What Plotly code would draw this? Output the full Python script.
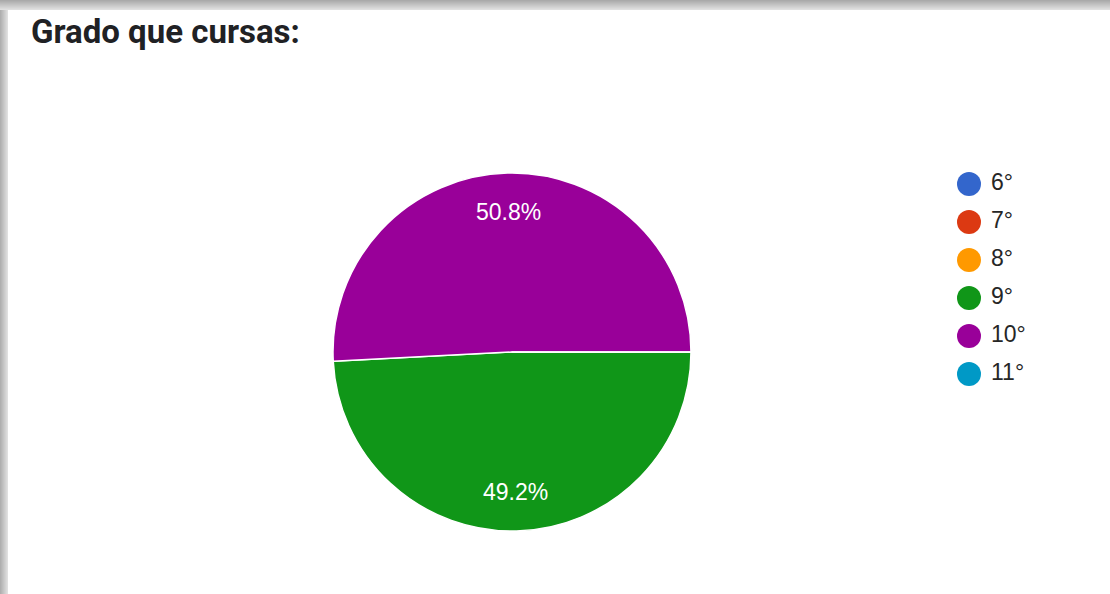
import math
import plotly.graph_objects as go

# Survey answers: "Grado que cursas:"
grados = ["6°", "7°", "8°", "9°", "10°", "11°"]
respuestas = [0, 0, 0, 30, 31, 0]
colores = ["#3366cc", "#dc3912", "#ff9900", "#109618", "#990099", "#0099c6"]

W, H = 1110, 594
ROTATION = 90  # first slice starts at 3 o'clock, going clockwise
CX, CY, R = 512, 352, 179  # pie centre and radius in pixels


def px_x(x):
    return x / W


def px_y(y):
    return 1 - y / H


fig = go.Figure()

fig.add_trace(go.Pie(
    labels=grados,
    values=respuestas,
    marker=dict(colors=colores, line=dict(color="white", width=1.5)),
    sort=False,
    direction="clockwise",
    rotation=ROTATION,
    textinfo="none",
    hoverinfo="label+value+percent",
    showlegend=False,
    domain=dict(x=[px_x(CX - R), px_x(CX + R)], y=[px_y(CY + R), px_y(CY - R)]),
))

# Percentage labels placed toward the outer part of each slice
total = sum(respuestas)
annotations = []
acc = 0
for n in respuestas:
    if n > 0:
        mid = math.radians(ROTATION + 360 * (acc + n / 2) / total)
        lx = CX + 0.78 * R * math.sin(mid)
        ly = CY - 0.78 * R * math.cos(mid)
        annotations.append(dict(
            text=f"{100 * n / total:.1f}%", xref="paper", yref="paper",
            x=px_x(lx), y=px_y(ly), xanchor="center", yanchor="middle",
            showarrow=False,
            font=dict(family="Liberation Sans, Arial", size=23, color="white"),
        ))
    acc += n

# Legend drawn as a column of round markers with labels
rows = list(range(len(grados)))
fig.add_trace(go.Scatter(
    x=[0] * len(grados), y=rows,
    mode="markers",
    marker=dict(size=24, color=colores, line=dict(width=0)),
    cliponaxis=False,
    xaxis="x2", yaxis="y2", hoverinfo="skip", showlegend=False,
))
fig.add_trace(go.Scatter(
    x=[22] * len(grados), y=rows,
    mode="text", text=grados, textposition="middle right",
    textfont=dict(family="Liberation Sans, Arial", size=23, color="#262626"),
    cliponaxis=False,
    xaxis="x2", yaxis="y2", hoverinfo="skip", showlegend=False,
))

# Card shadow along the top and left edges
shapes = []
for i in range(10):
    g = int(170 + i * 6)
    shapes.append(dict(type="rect", xref="paper", yref="paper",
                       x0=0, x1=1, y0=px_y(i + 1), y1=px_y(i),
                       fillcolor=f"rgb({g},{g},{g})", line=dict(width=0), layer="below"))
for j in range(8):
    g = int(175 + j * 7)
    shapes.append(dict(type="rect", xref="paper", yref="paper",
                       x0=px_x(j), x1=px_x(j + 1), y0=0, y1=px_y(10),
                       fillcolor=f"rgb({g},{g},{g})", line=dict(width=0), layer="below"))

annotations.append(dict(
    text="<b>Grado que cursas:</b>", xref="paper", yref="paper",
    x=px_x(29), y=px_y(31), xanchor="left", yanchor="middle",
    showarrow=False, font=dict(family="Roboto", size=33, color="#202124"),
))

fig.update_layout(
    width=W, height=H,
    margin=dict(l=0, r=0, t=0, b=0),
    paper_bgcolor="white", plot_bgcolor="rgba(0,0,0,0)",
    showlegend=False,
    shapes=shapes,
    xaxis2=dict(domain=[px_x(969), 1], range=[0, W - 969], visible=False, fixedrange=True),
    yaxis2=dict(domain=[px_y(165 + 38 * 6), px_y(165)], range=[5.5, -0.5],
                visible=False, fixedrange=True, anchor="x2"),
    annotations=annotations,
)

fig.write_html("out.html")
